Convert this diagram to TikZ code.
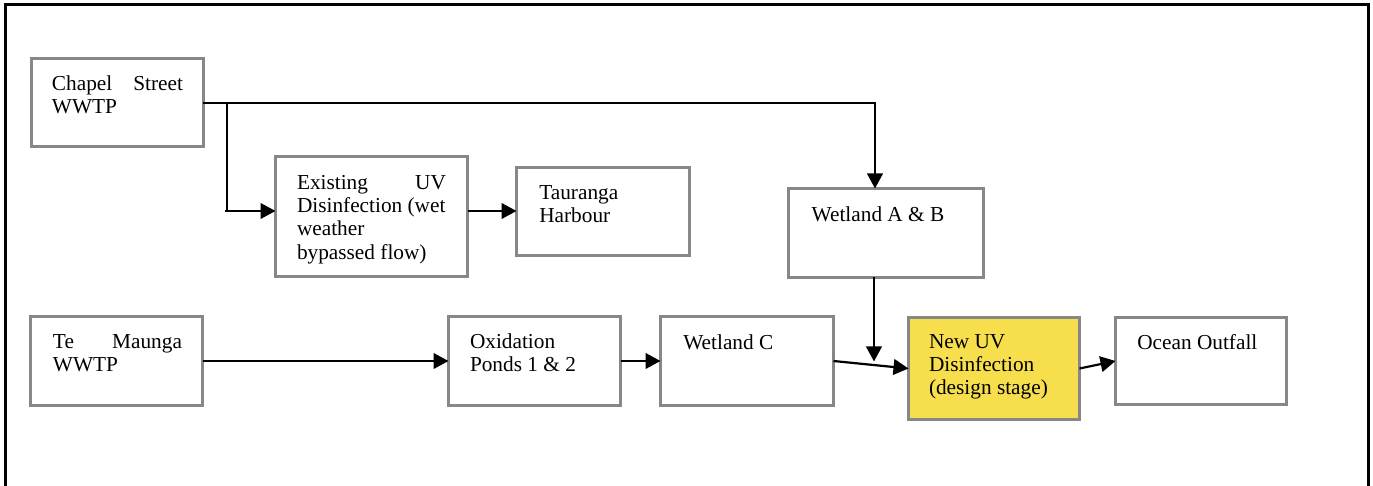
\documentclass[tikz,border=0pt]{standalone}
\usepackage{fontspec}
\setmainfont{Liberation Serif}
\usetikzlibrary{arrows.meta}
\definecolor{boxgray}{RGB}{135,135,135}
\definecolor{uvyellow}{RGB}{246,222,76}
\tikzset{
  frame/.style={line width=1.5pt, black},
  flowbox/.style={draw=boxgray, line width=1.5pt, rectangle, inner sep=0pt, outer sep=0pt},
  newbox/.style={flowbox, fill=uvyellow},
  txt/.style={anchor=base west, inner sep=0pt, outer sep=0pt, font=\fontsize{10.65}{11.65}\selectfont},
  arr/.style={line width=1.1pt, black, -{Triangle[length=7.5pt,width=7.8pt]}},
  ln/.style={line width=1.1pt, black}
}
\begin{document}
\begin{tikzpicture}[x=0.5pt,y=-0.5pt]
\useasboundingbox (0,0) rectangle (1373,486);
% outer frame (open at the bottom)
\draw[frame] (5.5,486) -- (5.5,4.5) -- (1368.5,4.5) -- (1368.5,486);

% boxes
\node[flowbox, minimum width=86pt, minimum height=44pt] (chapel) at (117,103) {};
\node[flowbox, minimum width=96pt, minimum height=60pt] (exist) at (371.5,216.5) {};
\node[flowbox, minimum width=86.5pt, minimum height=44pt] (taur) at (603,211.5) {};
\node[flowbox, minimum width=97.5pt, minimum height=44.5pt] (wetab) at (886,233) {};
\node[flowbox, minimum width=86pt, minimum height=44.5pt] (tem) at (116.5,361) {};
\node[flowbox, minimum width=86pt, minimum height=44.5pt] (oxi) at (534.5,361) {};
\node[flowbox, minimum width=86.5pt, minimum height=44.5pt] (wetc) at (747,361) {};
\node[newbox, minimum width=85.5pt, minimum height=51pt] (newuv) at (994,368.5) {};
\node[flowbox, minimum width=85.5pt, minimum height=43.5pt] (ocean) at (1201,361) {};

% texts
\node[txt] (chapel-t) at (52,90.7) {\parbox[t]{65.5pt}{Chapel\hfill Street\\WWTP}};
\node[txt] (exist-t) at (297,189.3) {\parbox[t]{74.5pt}{Existing\hfill UV\\Disinfection (wet\\weather\\bypassed flow)}};
\node[txt] (taur-t) at (539.3,199.3) {\parbox[t]{70pt}{Tauranga\\Harbour}};
\node[txt] (wetab-t) at (811.7,221.7) {Wetland A \& B};
\node[txt] (tem-t) at (53,348.3) {\parbox[t]{64.5pt}{Te\hfill Maunga\\WWTP}};
\node[txt] (oxi-t) at (470,348.3) {\parbox[t]{70pt}{Oxidation\\Ponds 1 \& 2}};
\node[txt] (wetc-t) at (683.3,350) {Wetland C};
\node[txt] (newuv-t) at (929,348.3) {\parbox[t]{75pt}{New UV\\Disinfection\\(design stage)}};
\node[txt] (ocean-t) at (1137.3,350) {Ocean Outfall};

% helper coordinates
\coordinate (abin) at (875,188.5);
\coordinate (br) at (227,103);
\coordinate (brl) at (225,211);
\coordinate (exin) at (275.5,211);
\coordinate (exout) at (467.5,211);
\coordinate (taurin) at (516.5,211);
\coordinate (about) at (874,277.5);
\coordinate (abend) at (874,361.5);

% connectors
\draw[arr] (chapel.east) -| (abin);
\draw[ln] (br) -- (br |- exin);
\draw[arr] (brl) -- (exin);
\draw[arr] (exout) -- (taurin);
\draw[arr] (about) -- (abend);
\draw[arr] (tem.east) -- (oxi.west);
\draw[arr] (oxi.east) -- (wetc.west);
\draw[arr] (wetc.east) -- (newuv.west);
\draw[arr] (newuv.east) -- (ocean.west);
\end{tikzpicture}
\end{document}
